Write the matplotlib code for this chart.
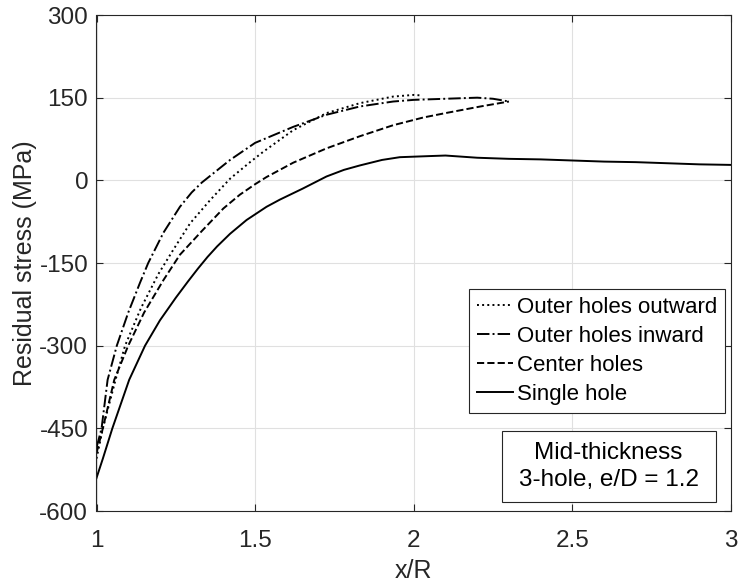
import matplotlib
matplotlib.use("Agg")
import matplotlib.pyplot as plt
from matplotlib.patches import Rectangle

plt.rcParams['font.family'] = ['Liberation Sans', 'DejaVu Sans']
plt.rcParams['axes.unicode_minus'] = False

# Single hole (solid)
x_single = [1.0, 1.02, 1.05, 1.103, 1.153, 1.2, 1.25, 1.289, 1.32, 1.35, 1.38, 1.421,
            1.473, 1.536, 1.578, 1.65, 1.725, 1.78, 1.83, 1.9, 1.956, 2.05, 2.1, 2.2,
            2.3, 2.4, 2.5, 2.6, 2.7, 2.8, 2.9, 3.0]
y_single = [-540, -505, -450, -362, -300, -254, -213, -183, -160, -139, -120, -97,
            -72, -48, -35, -15, 7, 19, 27, 37, 42, 44, 45, 41,
            39, 38, 36, 34, 33, 31, 29, 28]

# Center holes (dashed)
x_center = [1.0, 1.02, 1.056, 1.1, 1.15, 1.211, 1.263, 1.332, 1.4, 1.452, 1.5, 1.536,
            1.62, 1.725, 1.83, 1.935, 2.03, 2.1, 2.21, 2.27, 2.3]
y_center = [-495, -450, -362, -300, -240, -181, -135, -92, -51, -26, -7, 6,
            32, 58, 80, 100, 114, 122, 134, 140, 143]

# Outer holes outward (dotted)
x_out = [1.0, 1.02, 1.06, 1.09, 1.14, 1.195, 1.242, 1.295, 1.358, 1.421, 1.484, 1.526,
         1.62, 1.725, 1.83, 1.935, 2.0, 2.025]
y_out = [-505, -450, -362, -300, -232, -170, -126, -78, -36, 3, 33, 52,
         91, 122, 140, 152, 155, 154]

# Outer holes inward (dash-dot)
x_in = [1.0, 1.016, 1.035, 1.064, 1.1, 1.137, 1.163, 1.211, 1.263, 1.3, 1.332, 1.421,
        1.5, 1.62, 1.725, 1.83, 1.935, 2.0, 2.1, 2.2, 2.25, 2.3]
y_in = [-485, -450, -362, -300, -240, -186, -150, -95, -48, -22, -4, 37,
        68, 97, 119, 134, 143, 146, 148, 150, 148, 143]

xticks = [1, 1.5, 2, 2.5, 3]
xticklabels = ['1', '1.5', '2', '2.5', '3']
yticks = [-600, -450, -300, -150, 0, 150, 300]

fig = plt.figure(figsize=(7.38, 5.86), dpi=100)
ax = fig.add_axes([96.5/738, 1-511/586, (731-96.5)/738, 496/586])

lw = 1.4
ax.plot(x_out, y_out, color='black', linestyle=':', lw=lw, label='Outer holes outward')
ax.plot(x_in, y_in, color='black', linestyle='-.', lw=lw, label='Outer holes inward')
ax.plot(x_center, y_center, color='black', linestyle='--', lw=lw, label='Center holes')
ax.plot(x_single, y_single, color='black', linestyle='-', lw=lw, label='Single hole')

ax.set_xlim(1, 3)
ax.set_ylim(-600, 300)
ax.set_xticks(xticks)
ax.set_xticklabels(xticklabels)
ax.set_yticks(yticks)
ax.grid(True, color='#e0e0e0', lw=0.8)
ax.set_axisbelow(True)

c = '#262626'
for s in ax.spines.values():
    s.set_color(c)
    s.set_linewidth(0.8)
ax.tick_params(direction='in', length=5, width=0.8, colors=c, labelsize=17.5,
               top=True, right=True, labelcolor=c)
ax.tick_params(axis='x', pad=14)
ax.tick_params(axis='y', pad=6)

ax.set_xlabel('x/R', fontsize=18, color=c, labelpad=5)
ax.set_ylabel('Residual stress (MPa)', fontsize=18, color=c, labelpad=2)

leg = ax.legend(loc='upper right', bbox_to_anchor=(0.991, 0.447), borderaxespad=0,
                fontsize=16, frameon=True, fancybox=False, framealpha=1,
                edgecolor=c, handlelength=1.6, handletextpad=0.2,
                labelspacing=0.36, borderpad=0.35)
leg.get_frame().set_linewidth(0.8)
for t in leg.get_texts():
    t.set_color('black')

ax.add_patch(Rectangle((0.6386, 0.0175), 0.9759 - 0.6386, 0.1619 - 0.0175,
                       transform=ax.transAxes, facecolor='white', edgecolor=c,
                       lw=0.8, zorder=5))
ax.text(0.807, 0.0897, 'Mid-thickness\n3-hole, e/D = 1.2', transform=ax.transAxes,
        ha='center', va='center', fontsize=17.5, color='black', linespacing=1.25,
        zorder=6)

fig.savefig('out.png', dpi=100)
